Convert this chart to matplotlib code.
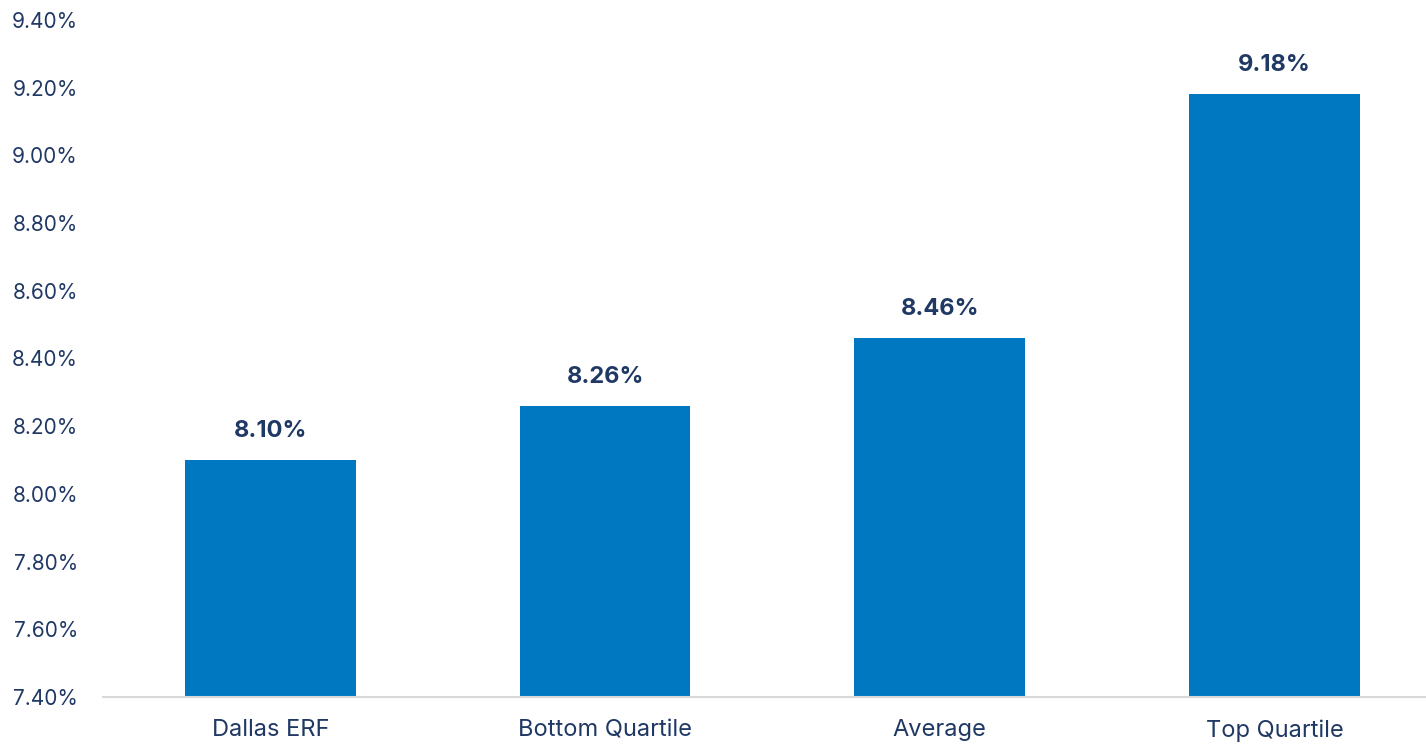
import matplotlib
matplotlib.use("Agg")
import matplotlib.pyplot as plt
from matplotlib.ticker import FuncFormatter

# datos del grafico
categorias = ["Dallas ERF", "Bottom Quartile", "Average", "Top Quartile"]
valores = [8.10, 8.26, 8.46, 9.18]
ticks_y = [7.40, 7.60, 7.80, 8.00, 8.20, 8.40, 8.60, 8.80, 9.00, 9.20, 9.40]

azul = "#0078C1"
texto = "#1F3864"

plt.rcParams["font.family"] = ["Inter", "DejaVu Sans"]

fig = plt.figure(figsize=(14.26, 7.44), dpi=100)
ax = fig.add_axes([0.0722, 0.0632, 0.939, 0.9099])

x = list(range(len(categorias)))
barras = ax.bar(x, valores, width=0.51, color=azul, zorder=2)

# etiquetas de valor encima de cada barra
for b, v in zip(barras, valores):
    ax.annotate(f"{v:.2f}%", (b.get_x() + b.get_width() / 2, v),
                xytext=(0, 13), textcoords="offset points",
                ha="center", va="bottom", fontsize=17, fontweight="bold", color=texto)

ax.set_ylim(7.40, 9.40)
ax.set_xlim(-0.5, 3.5)
ax.set_yticks(ticks_y)
ax.yaxis.set_major_formatter(FuncFormatter(lambda v, p: f"{v:.2f}%"))
ax.set_xticks(x)
ax.set_xticklabels(categorias)

ax.tick_params(axis="y", length=0, pad=18, labelsize=15, labelcolor=texto)
ax.tick_params(axis="x", length=0, pad=16, labelsize=17, labelcolor=texto)

for lado in ["top", "right", "left"]:
    ax.spines[lado].set_visible(False)
ax.spines["bottom"].set_color("#D9D9D9")
ax.spines["bottom"].set_linewidth(1.5)

fig.savefig("out.png", dpi=100)
